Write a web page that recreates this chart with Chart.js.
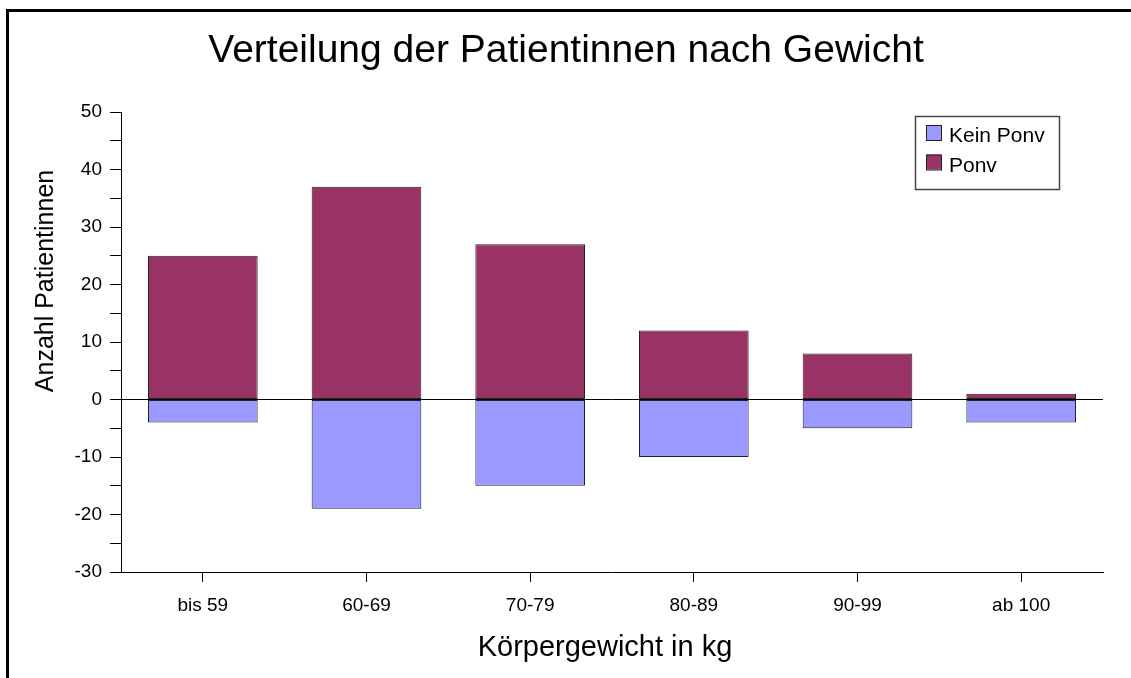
<!DOCTYPE html>
<html>
<head>
<meta charset="utf-8">
<script src="https://cdn.jsdelivr.net/npm/chart.js@4/dist/chart.umd.min.js"></script>
<style>
  html, body { margin: 0; padding: 0; background: #fff; overflow: hidden; }
  #wrap { position: relative; width: 1131px; height: 678px; }
  #c { position: absolute; left: 0; top: 0; }
  #frame { position: absolute; left: 6px; top: 9px; width: 2000px; height: 2000px; border: 3px solid #000; pointer-events: none; }
</style>
</head>
<body>
<div id="wrap">
  <canvas id="c" width="1131" height="678"></canvas>
  <div id="frame"></div>
</div>
<script>
const categories = ['bis 59', '60-69', '70-79', '80-89', '90-99', 'ab 100'];
const keinPonv = [-4, -19, -15, -10, -5, -4];
const ponv = [25, 37, 27, 12, 8, 1];
const seriesNames = ['Kein Ponv', 'Ponv'];
const seriesColors = ['#9999FF', '#993366'];
const chartTitle = 'Verteilung der Patientinnen nach Gewicht';
const xTitle = 'Körpergewicht in kg';
const yTitle = 'Anzahl Patientinnen';
const yMin = -30, yMax = 50, yStep = 5;

const FONT = '"Liberation Sans", Arial, sans-serif';

const textPlugin = {
  id: 'texts',
  afterDraw(chart) {
    const ctx = chart.ctx;
    ctx.save();
    ctx.fillStyle = '#000';
    // chart title
    ctx.font = '39px ' + FONT;
    ctx.textAlign = 'center';
    ctx.textBaseline = 'alphabetic';
    ctx.fillText(chartTitle, 566, 62);
    // x title
    ctx.font = '29px ' + FONT;
    ctx.fillText(xTitle, 605, 656);
    // y title
    ctx.save();
    ctx.translate(53, 281);
    ctx.rotate(-Math.PI / 2);
    ctx.font = '25px ' + FONT;
    ctx.fillText(yTitle, 0, 0);
    ctx.restore();
    // legend
    const bx = 915, by = 116, bw = 144, bh = 73;
    ctx.fillStyle = '#fff';
    ctx.fillRect(bx, by, bw, bh);
    ctx.strokeStyle = '#444';
    ctx.lineWidth = 1.5;
    ctx.strokeRect(bx + 0.5, by + 0.5, bw, bh);
    ctx.font = '21px ' + FONT;
    ctx.textAlign = 'left';
    chart.data.datasets.forEach((ds, i) => {
      const sy = 125 + i * 29.5;
      ctx.fillStyle = ds.backgroundColor;
      ctx.fillRect(926, sy, 15, 15);
      ctx.strokeStyle = '#222';
      ctx.lineWidth = 1;
      ctx.strokeRect(926.5, sy + 0.5, 15, 15);
      ctx.fillStyle = '#000';
      ctx.fillText(ds.label, 949, sy + 17);
    });
    ctx.restore();
  }
};

new Chart(document.getElementById('c'), {
  type: 'bar',
  data: {
    labels: categories,
    datasets: [
      { label: seriesNames[0], data: keinPonv, backgroundColor: seriesColors[0], borderColor: '#222', borderWidth: 1, borderSkipped: false, barPercentage: 0.67, categoryPercentage: 1.0 },
      { label: seriesNames[1], data: ponv, backgroundColor: seriesColors[1], borderColor: '#222', borderWidth: 1, borderSkipped: false, barPercentage: 0.67, categoryPercentage: 1.0 }
    ]
  },
  options: {
    responsive: false,
    animation: false,
    layout: { padding: { top: 112, right: 28, left: 0, bottom: 0 } },
    plugins: {
      legend: { display: false },
      title: { display: false },
      tooltip: { enabled: false }
    },
    scales: {
      x: {
        stacked: true,
        grid: { drawOnChartArea: false, offset: false, tickLength: 10, tickColor: '#000', tickWidth: 1 },
        border: { display: true, color: '#000', width: 1 },
        ticks: { color: '#000', font: { family: FONT, size: 19 }, padding: 12, maxRotation: 0 },
        afterFit(scale) { scale.height = 106; }
      },
      y: {
        stacked: true,
        min: yMin, max: yMax,
        grid: {
          drawOnChartArea: true,
          color: (c) => (c.tick && c.tick.value === 0) ? '#000' : 'rgba(0,0,0,0)',
          tickColor: '#000',
          tickLength: 11,
          lineWidth: 1
        },
        border: { display: true, color: '#000', width: 1 },
        ticks: {
          stepSize: yStep,
          color: '#000',
          font: { family: FONT, size: 19 },
          padding: 8,
          callback: (v) => (v % 10 === 0 ? String(v) : '')
        },
        afterFit(scale) { scale.width = 121; }
      }
    }
  },
  plugins: [textPlugin]
});
</script>
</body>
</html>
